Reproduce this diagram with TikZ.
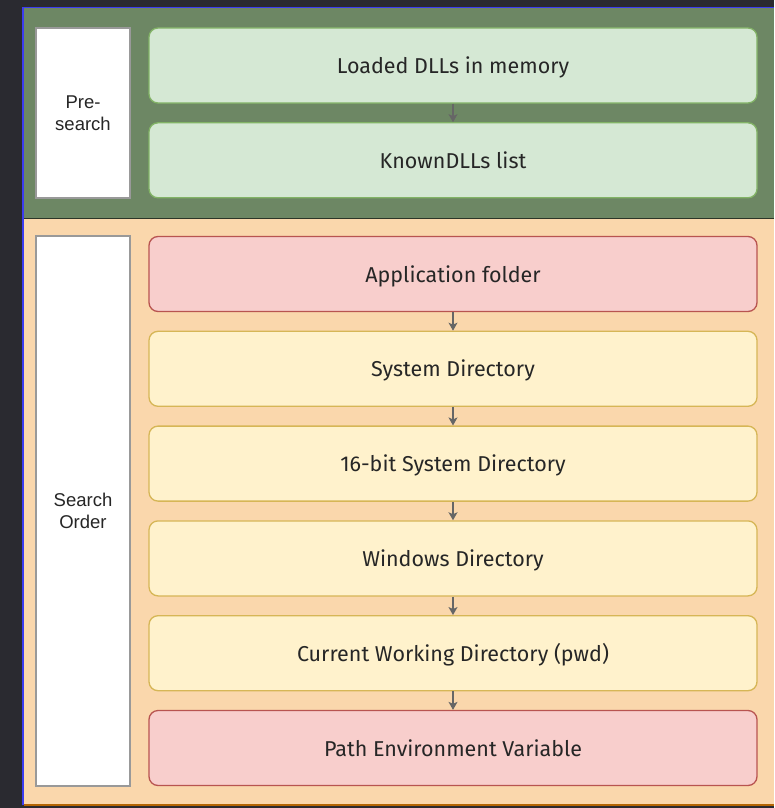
\documentclass[tikz,border=0pt]{standalone}
\usepackage{fontspec}
\setmainfont{Fira Sans}
\newfontfamily\labelfont{Liberation Sans}
\usetikzlibrary{arrows.meta, positioning}

\definecolor{darkbg}{HTML}{2A2A30}
\definecolor{selblue}{HTML}{3C3CF0}
\definecolor{grpgreen}{HTML}{6D8764}
\definecolor{grporange}{HTML}{FAD7AC}
\definecolor{grporangeline}{HTML}{B46504}
\definecolor{gfill}{HTML}{D5E8D4}
\definecolor{gline}{HTML}{82B366}
\definecolor{rfill}{HTML}{F8CECC}
\definecolor{rline}{HTML}{B85450}
\definecolor{yfill}{HTML}{FFF2CC}
\definecolor{yline}{HTML}{D6B656}

\begin{document}
\begin{tikzpicture}[
    x=1pt, y=-1pt,
    every node/.style={font=\fontsize{21.5}{24}\selectfont, text=black!85},
    stepbox/.style={
        rectangle,
        rounded corners=9pt,
        minimum width=608pt,
        minimum height=75pt,
        line width=1.3pt,
        text height=16pt,
        text depth=0pt,
        text centered
    },
    greenbox/.style={stepbox, fill=gfill, draw=gline},
    redbox/.style={stepbox, fill=rfill, draw=rline},
    yellowbox/.style={stepbox, fill=yfill, draw=yline},
    phase/.style={
        rectangle,
        fill=white,
        draw=black!40,
        line width=1.3pt,
        minimum width=94pt,
        text width=85pt,
        align=center,
        font=\labelfont\fontsize{18.5}{22.5}\selectfont
    },
    arrow/.style={
        draw=black!60,
        line width=1.1pt,
        -{Stealth[length=8pt, width=9pt, inset=2pt]}
    }
]

% --- background and groups ---
\fill [darkbg] (0,0) rectangle (774,808);
\fill [grporange] (24,218) rectangle (774,805);
\draw [grporangeline, line width=1.5pt] (24,805) -- (774,805);
\fill [grpgreen] (24,8) rectangle (774,218);
\draw [black!60!grpgreen, line width=1pt] (24,218) -- (774,218);
\draw [selblue, line width=1.5pt] (23,805) -- (23,7.5) -- (774,7.5);

% --- phase labels ---
\node (presearch) [phase, minimum height=170pt] at (83,113) {Pre-\\search};
\node (searchorder) [phase, minimum height=550pt] at (83,511) {Search\\Order};

% --- pre-search nodes ---
\node (loaded) [greenbox] at (453,65.5) {Loaded DLLs in memory};
\node (known) [greenbox, below=18.5pt of loaded] {KnownDLLs list};

% --- search order nodes ---
\node (appdir) [redbox] at (453,274) {Application folder};
\node (sysdir) [yellowbox, below=18.5pt of appdir] {System Directory};
\node (sys16dir) [yellowbox, below=18.5pt of sysdir] {16-bit System Directory};
\node (windir) [yellowbox, below=18.5pt of sys16dir] {Windows Directory};
\node (cwd) [yellowbox, below=18.5pt of windir] {Current Working Directory (pwd)};
\node (pathvar) [redbox, below=18.5pt of cwd] {Path Environment Variable};

% --- arrows ---
\draw [arrow] (loaded) -- (known);
\draw [arrow] (appdir) -- (sysdir);
\draw [arrow] (sysdir) -- (sys16dir);
\draw [arrow] (sys16dir) -- (windir);
\draw [arrow] (windir) -- (cwd);
\draw [arrow] (cwd) -- (pathvar);

\end{tikzpicture}
\end{document}
